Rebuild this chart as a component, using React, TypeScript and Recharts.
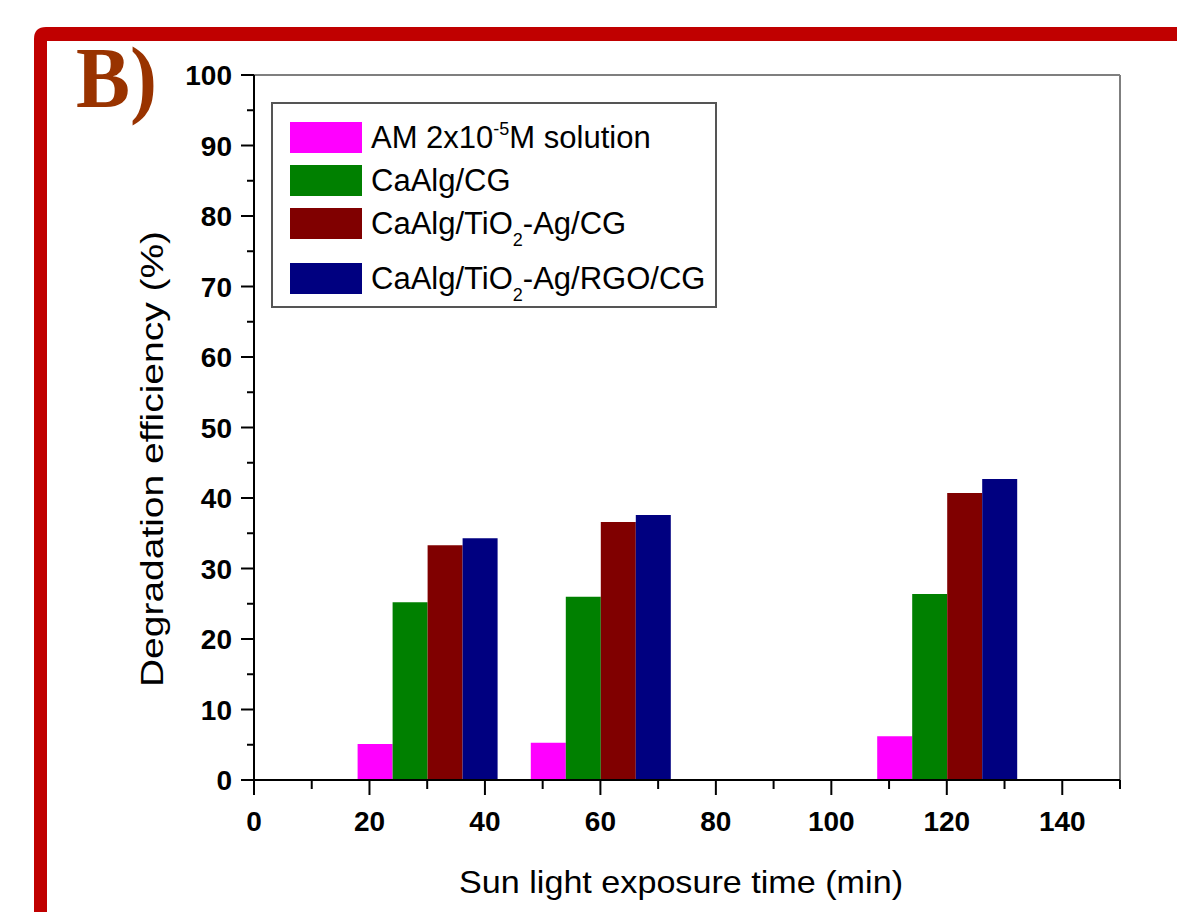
import { ComposedChart, Bar, XAxis, YAxis, ReferenceLine, Legend } from 'recharts';

// exposure times (min) and degradation efficiency (%) per sample
const times = [30, 60, 120];
const amSolution = [5.1, 5.3, 6.2];
const caAlgCG = [25.2, 26.0, 26.4];
const caAlgTiO2AgCG = [33.3, 36.6, 40.7];
const caAlgTiO2AgRgoCG = [34.3, 37.6, 42.7];

const xTicks = [0, 10, 20, 30, 40, 50, 60, 70, 80, 90, 100, 110, 120, 130, 140, 150];
const yTicks = [0, 5, 10, 15, 20, 25, 30, 35, 40, 45, 50, 55, 60, 65, 70, 75, 80, 85, 90, 95, 100];
const barAxisTicks = [0, 30, 60, 90, 120, 150];

const series = [
  { key: 'am', color: '#FF00FF', values: amSolution },
  { key: 'cg', color: '#008000', values: caAlgCG },
  { key: 'tio2', color: '#800000', values: caAlgTiO2AgCG },
  { key: 'rgo', color: '#000080', values: caAlgTiO2AgRgoCG },
];

const data = times.map((t, i) => {
  const row: Record<string, number> = { time: t };
  series.forEach(s => { row[s.key] = s.values[i]; });
  return row;
});

const FONT = '"Liberation Sans", Arial, sans-serif';

const XTick = (props: any) => {
  const { x, y, payload } = props;
  const major = payload.value % 20 === 0;
  return (
    <g>
      <line x1={x} x2={x} y1={y} y2={y + (major ? 15 : 9)} stroke="#000" strokeWidth={2} />
      {major && (
        <text x={x} y={y + 51} textAnchor="middle" fontSize={28} fontWeight="bold" fontFamily={FONT} fill="#000">
          {payload.value}
        </text>
      )}
    </g>
  );
};

const YTick = (props: any) => {
  const { x, y, payload } = props;
  const major = payload.value % 10 === 0;
  return (
    <g>
      <line x1={x - (major ? 13 : 7)} x2={x} y1={y} y2={y} stroke="#000" strokeWidth={2} />
      {major && (
        <text x={x - 22} y={y + 10} textAnchor="end" fontSize={28} fontWeight="bold" fontFamily={FONT} fill="#000">
          {payload.value}
        </text>
      )}
    </g>
  );
};

const YLabel = (props: any) => {
  const { viewBox } = props;
  const cx = viewBox.x + 163;
  const cy = 459;
  return (
    <text
      x={cx}
      y={cy}
      transform={`rotate(-90 ${cx} ${cy})`}
      textAnchor="middle"
      fontSize={32}
      fontFamily={FONT}
      fill="#000"
      textLength={456}
      lengthAdjust="spacingAndGlyphs"
    >
      Degradation efficiency (%)
    </text>
  );
};

const XLabel = () => (
  <text
    x={681}
    y={893}
    textAnchor="middle"
    fontSize={32}
    fontFamily={FONT}
    fill="#000"
    textLength={444}
    lengthAdjust="spacingAndGlyphs"
  >
    Sun light exposure time (min)
  </text>
);

const small = { fontSize: 18, position: 'relative' as const };

const legendLabels = [
  <span>AM 2x10<span style={{ ...small, top: -13 }}>-5</span>M solution</span>,
  <span>CaAlg/CG</span>,
  <span>CaAlg/TiO<span style={{ ...small, top: 12 }}>2</span>-Ag/CG</span>,
  <span>CaAlg/TiO<span style={{ ...small, top: 12 }}>2</span>-Ag/RGO/CG</span>,
];
const rowGaps = [20, 12, 12, 24];

const renderLegend = () => (
  <div
    style={{
      width: 446,
      height: 206,
      boxSizing: 'border-box',
      border: '2px solid #555',
      background: '#fff',
      paddingLeft: 17,
      fontFamily: FONT,
      fontSize: 31,
      color: '#000',
    }}
  >
    {series.map((s, i) => (
      <div key={s.key} style={{ display: 'flex', alignItems: 'center', height: 31, marginTop: rowGaps[i] - (i === 0 ? 2 : 0) }}>
        <div style={{ width: 72, height: 31, background: s.color, marginRight: 9, flex: 'none' }} />
        <div style={{ lineHeight: 1, whiteSpace: 'nowrap' }}>{legendLabels[i]}</div>
      </div>
    ))}
  </div>
);

export default function App() {
  return (
    <div style={{ position: 'absolute', left: 0, top: 0, width: 1177, height: 912, background: '#fff' }}>
      <ComposedChart
        width={1177}
        height={912}
        data={data}
        margin={{ top: 75, right: 57, bottom: 0, left: 0 }}
        barGap={0}
      >
        <XAxis
          xAxisId="bars"
          dataKey="time"
          type="number"
          domain={[0, 150]}
          ticks={barAxisTicks}
          tickCount={6}
          height={0}
          hide
        />
        <XAxis
          xAxisId="ticks"
          dataKey="time"
          type="number"
          domain={[0, 150]}
          ticks={xTicks}
          interval={0}
          height={132}
          tickSize={0}
          tickMargin={0}
          tickLine={false}
          tick={<XTick />}
          axisLine={{ stroke: '#000', strokeWidth: 2 }}
          allowDataOverflow
        />
        <YAxis
          type="number"
          domain={[0, 100]}
          ticks={yTicks}
          interval={0}
          width={254}
          tickSize={0}
          tickMargin={0}
          tickLine={false}
          tick={<YTick />}
          axisLine={{ stroke: '#000', strokeWidth: 2 }}
          label={<YLabel />}
        />
        <ReferenceLine xAxisId="ticks" y={100} stroke="#7f7f7f" strokeWidth={2} />
        <ReferenceLine xAxisId="ticks" x={150} stroke="#7f7f7f" strokeWidth={2} />
        {series.map(s => (
          <Bar key={s.key} xAxisId="bars" dataKey={s.key} fill={s.color} barSize={35} isAnimationActive={false} />
        ))}
        <Legend
          layout="vertical"
          align="center"
          verticalAlign="middle"
          wrapperStyle={{ position: 'absolute', left: 271, top: 102, width: 446, height: 206 }}
          content={renderLegend}
        />
      </ComposedChart>
      <svg width={1177} height={912} style={{ position: 'absolute', left: 0, top: 0, pointerEvents: 'none' }}>
        <path d="M34 912 L34 39 Q34 27 46 27 L1177 27 L1177 41 L47 41 L47 912 Z" fill="#C00000" />
        <text
          x={76}
          y={107}
          fontSize={86}
          fontWeight="bold"
          fontFamily='"Liberation Serif", "Times New Roman", serif'
          fill="#993300"
          textLength={81}
          lengthAdjust="spacingAndGlyphs"
        >
          B)
        </text>
        <XLabel />
      </svg>
    </div>
  );
}
